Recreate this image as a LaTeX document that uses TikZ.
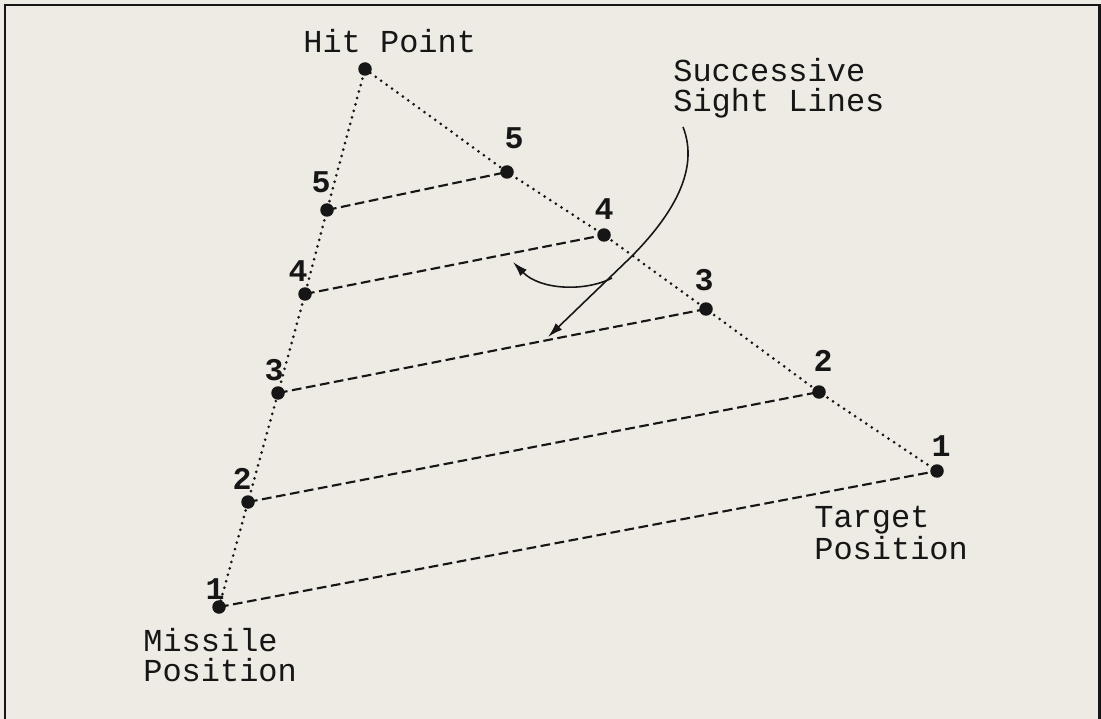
\documentclass[tikz,border=0pt]{standalone}
\usepackage{fontspec}
\setmonofont{Liberation Mono}
\usetikzlibrary{positioning,arrows.meta}
\definecolor{paper}{RGB}{237,235,227}
\definecolor{ink}{RGB}{22,22,22}

\begin{document}
\begin{tikzpicture}[x=0.02cm, y=-0.02cm]
\tikzstyle{dot}=[circle, fill=ink, inner sep=0pt, minimum size=0.27cm]
\tikzstyle{num}=[font=\ttfamily\bfseries\fontsize{18}{18}\selectfont, inner sep=0pt, text=ink]
\tikzstyle{lbl}=[font=\ttfamily\fontsize{18.2}{16.8}\selectfont, align=left, inner sep=0pt, text=ink, anchor=west]
\tikzstyle{side}=[draw=ink, line width=1.7pt, line cap=round, dash pattern=on 0pt off 3.8pt]
\tikzstyle{sight}=[draw=ink, line width=1.2pt, dash pattern=on 5.5pt off 2.6pt]
\tikzstyle{pointer}=[draw=ink, line width=0.9pt, -{Latex[length=0.3cm, width=0.18cm]}]
% paper and frame
\fill[paper] (0,0) rectangle (1101,719);
\useasboundingbox (0,0) rectangle (1101,719);
\draw[ink, line width=1.7pt] (5,719) -- (5,5) -- (1099,5) -- (1099,719);

% positions
\node[dot] (hit) at (365,69) {};
\node[dot] (m1) at (219,607) {};
\node[dot] (m2) at (248,502) {};
\node[dot] (m3) at (278,393) {};
\node[dot] (m4) at (305,294) {};
\node[dot] (m5) at (327,210) {};
\node[dot] (t1) at (937,471) {};
\node[dot] (t2) at (819,392) {};
\node[dot] (t3) at (706,309) {};
\node[dot] (t4) at (604,235) {};
\node[dot] (t5) at (507,172) {};

% numbers
\node[num] (n1) at (215,589) {1};
\node[num] (n2) at (242,479) {2};
\node[num] (n3) at (274,370) {3};
\node[num] (n4) at (298,271) {4};
\node[num] (n5) at (321,182) {5};
\node[num] (k1) at (941,446) {1};
\node[num] (k2) at (823,361) {2};
\node[num] (k3) at (704,280) {3};
\node[num] (k4) at (604,209) {4};
\node[num] (k5) at (514,138) {5};

% paths
\draw[side] (m1.center) -- (m2.center) -- (m3.center) -- (m4.center) -- (m5.center) -- (hit.center);
\draw[side] (hit.center) -- (t5.center) -- (t4.center) -- (t3.center) -- (t2.center) -- (t1.center);

% sight lines
\draw[sight] (m1.center) -- (t1.center);
\draw[sight] (m2.center) -- (t2.center);
\draw[sight] (m3.center) -- (t3.center);
\draw[sight] (m4.center) -- (t4.center);
\draw[sight] (m5.center) -- (t5.center);

% labels
\node[lbl] (hitlbl) at (303,41) {Hit Point};
\node[lbl] (sightlbl) at (673,88) {Successive\\Sight Lines};
\node[lbl] (mislbl) at (143,655) {Missile\\Position};
\node[lbl] (tgtlbl) at (814,533) {Target\\Position};

% arrows
\coordinate (a0) at (683,127);
\coordinate (a1) at (548,337);
\coordinate (b0) at (612,278);
\coordinate (b1) at (513,262);
\draw[pointer] (a0) .. controls (700,170) and (672,216) .. (630,258) -- (a1);
\draw[pointer] (b0) .. controls (585,292) and (540,290) .. (b1);
\end{tikzpicture}
\end{document}
